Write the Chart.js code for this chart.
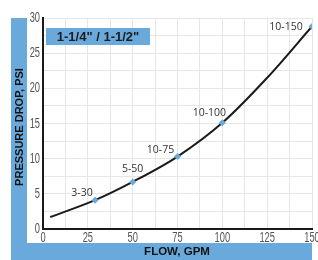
<!DOCTYPE html>
<html>
<head>
<meta charset="utf-8">
<script src="https://cdn.jsdelivr.net/npm/chart.js@4/dist/chart.umd.min.js"></script>
<style>
  html, body { margin: 0; padding: 0; background: #fff; }
  #wrap { width: 318px; height: 260px; }
</style>
</head>
<body>
<div id="wrap"><canvas id="myChart" width="318" height="260"></canvas></div>
<script>
// curve
var flowCurve = [4, 29, 50, 75, 100, 125, 150];
var dropCurve = [1.7, 4.1, 6.7, 10.3, 15.1, 21.5, 28.8];

// marked points and their labels
var markFlow = [29, 50, 75, 100, 150];
var markDrop = [4.1, 6.7, 10.3, 15.1, 28.8];
var markNames = ['3-30', '5-50', '10-75', '10-100', '10-150'];

var xTicks = [0, 25, 50, 75, 100, 125, 150];
var yTicks = [0, 5, 10, 15, 20, 25, 30];

var sizeLabel = '1-1/4" / 1-1/2"';
var xTitle = 'FLOW, GPM';
var yTitle = 'PRESSURE DROP, PSI';

// label offsets from each marker (layout only)
var labelDx = [-13, 0, -17, -13, -26];
var labelDy = [-7, -13, -7, -10, 1];

var blue = '#69a9dc';

// narrow tick text, like the original condensed face
function narrowText(ctx, txt, x, y, align) {
  var sx = 0.62;
  ctx.save();
  ctx.translate(x, y);
  ctx.scale(sx, 1);
  ctx.textAlign = align;
  ctx.fillText(txt, 0, 0);
  ctx.restore();
}

var decor = {
  id: 'decor',
  beforeDraw: function(chart) {
    var ctx = chart.ctx;
    var a = chart.chartArea;
    ctx.save();
    ctx.fillStyle = '#fff';
    ctx.fillRect(0, 0, chart.width, chart.height);
    ctx.fillStyle = blue;
    ctx.fillRect(11, a.top, 16, chart.height - a.top);
    ctx.fillRect(11, 243, a.right - 11, chart.height - 243);
    ctx.restore();
  },
  beforeDatasetsDraw: function(chart) {
    var ctx = chart.ctx;
    var a = chart.chartArea;
    ctx.save();
    ctx.fillStyle = blue;
    ctx.fillRect(a.left + 3, a.top + 10, 104, 17);
    ctx.fillStyle = '#1c1c1c';
    ctx.font = 'bold 13px "Liberation Sans", Arial, sans-serif';
    ctx.textAlign = 'center';
    ctx.textBaseline = 'middle';
    ctx.fillText(sizeLabel, a.left + 55, a.top + 19);
    ctx.restore();
  },
  afterDraw: function(chart) {
    var ctx = chart.ctx;
    var a = chart.chartArea;
    var xs = chart.scales.x, ys = chart.scales.y;
    ctx.save();
    // tick labels
    ctx.font = '15px "Liberation Sans", Arial, sans-serif';
    ctx.fillStyle = '#555';
    ctx.textBaseline = 'middle';
    yTicks.forEach(function(v) {
      narrowText(ctx, String(v), a.left - 3, ys.getPixelForValue(v), 'right');
    });
    xTicks.forEach(function(v) {
      narrowText(ctx, String(v), xs.getPixelForValue(v), a.bottom + 9, 'center');
    });
    // point labels
    ctx.font = '10.5px "Open Sans", sans-serif';
    ctx.fillStyle = '#333';
    ctx.textAlign = 'center';
    for (var i = 0; i < markNames.length; i++) {
      var px = xs.getPixelForValue(markFlow[i]);
      var py = ys.getPixelForValue(markDrop[i]);
      ctx.fillText(markNames[i], px + labelDx[i], py + labelDy[i]);
    }
    // axis titles
    ctx.fillStyle = '#111';
    ctx.font = 'bold 11.5px "Liberation Sans", Arial, sans-serif';
    ctx.fillText(xTitle, 177, 252);
    ctx.translate(19.5, 127);
    ctx.rotate(-Math.PI / 2);
    ctx.font = 'bold 11px "Liberation Sans", Arial, sans-serif';
    ctx.fillText(yTitle, 0, 0);
    ctx.restore();
  }
};

var ctx = document.getElementById('myChart').getContext('2d');
var myChart = new Chart(ctx, {
  type: 'scatter',
  data: {
    datasets: [{
      data: flowCurve.map(function(v, i) { return { x: v, y: dropCurve[i] }; }),
      showLine: true,
      borderColor: '#1a1a1a',
      borderWidth: 2,
      pointRadius: 0,
      cubicInterpolationMode: 'monotone',
      order: 2
    }, {
      data: markFlow.map(function(v, i) { return { x: v, y: markDrop[i] }; }),
      showLine: false,
      pointStyle: 'rectRot',
      pointRadius: 3.5,
      backgroundColor: blue,
      borderColor: blue,
      borderWidth: 0,
      order: 1
    }]
  },
  options: {
    responsive: false,
    animation: false,
    devicePixelRatio: 1,
    layout: { padding: { top: 18, right: 6, left: 0, bottom: 0 } },
    plugins: { legend: { display: false }, tooltip: { enabled: false } },
    scales: {
      x: {
        type: 'linear',
        min: 0, max: 150,
        afterFit: function(s) { s.height = 31; s.paddingLeft = 0; s.paddingRight = 0; },
        afterBuildTicks: function(s) {
          var t = [];
          for (var v = 0; v <= 150; v += 12.5) t.push({ value: v });
          s.ticks = t;
        },
        ticks: { display: false },
        grid: { color: '#e6e6e6', lineWidth: 1, drawTicks: false },
        border: { color: '#1a1a1a', width: 2 }
      },
      y: {
        type: 'linear',
        min: 0, max: 30,
        afterFit: function(s) { s.width = 43; },
        afterBuildTicks: function(s) {
          var t = [];
          for (var v = 0; v <= 30; v += 2.5) t.push({ value: v });
          s.ticks = t;
        },
        ticks: { display: false },
        grid: { color: '#e6e6e6', lineWidth: 1, drawTicks: false },
        border: { color: '#1a1a1a', width: 2 }
      }
    }
  },
  plugins: [decor]
});
</script>
</body>
</html>
